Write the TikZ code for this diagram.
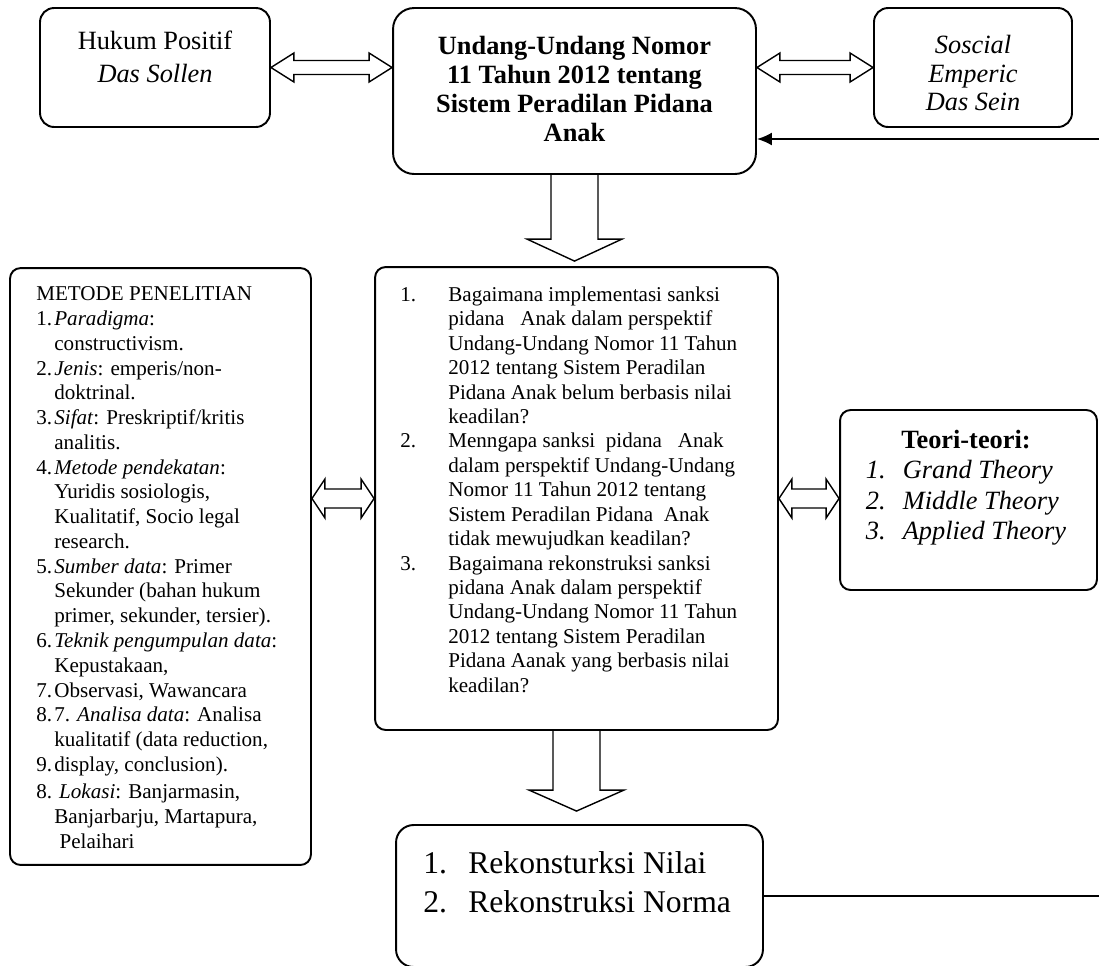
\documentclass[tikz,border=0pt]{standalone}
\usepackage{fontspec}
\setmainfont{Liberation Serif}
\usetikzlibrary{calc,arrows.meta}

\tikzset{
  box/.style={draw, line width=1.1pt, rounded corners=#1, inner sep=0pt},
  box/.default=6pt,
  txt/.style={inner sep=0pt},
  blockarrow/.style={draw, line width=0.8pt, line join=miter},
  feedback/.style={line width=1.1pt, -{Latex[length=3mm,width=2.6mm]}}
}

% from, to, head length, head half height, shaft half width
\newcommand{\dblarrow}[5]{%
  \draw[blockarrow] let \p1=(#1), \p2=(#2) in
    (\x1,\y1) -- (\x1+#3,\y1+#4) -- (\x1+#3,\y1+#5) -- (\x2-#3,\y1+#5)
    -- (\x2-#3,\y1+#4) -- (\x2,\y1) -- (\x2-#3,\y1-#4) -- (\x2-#3,\y1-#5)
    -- (\x1+#3,\y1-#5) -- (\x1+#3,\y1-#4) -- cycle;}
% from, to, gap, head length, head half width, shaft half width
\newcommand{\blockdown}[6]{%
  \draw[blockarrow] let \p1=(#1), \p2=(#2) in
    (\x1-#6,\y1) -- (\x1-#6,\y2+#3+#4) -- (\x1-#5,\y2+#3+#4) -- (\x1,\y2+#3)
    -- (\x1+#5,\y2+#3+#4) -- (\x1+#6,\y2+#3+#4) -- (\x1+#6,\y1);}

\begin{document}
\begin{tikzpicture}[x=0.02cm, y=-0.02cm]
  \useasboundingbox (0,0) rectangle (1099,965);
  \clip (0,0) rectangle (1099,965);

  \node[box=8pt, minimum width=4.6cm, minimum height=2.38cm] (huk) at (155,67.5) {};
  \node[box=12pt, minimum width=7.26cm, minimum height=3.32cm] (und) at (574.5,91) {};
  \node[box=8pt, minimum width=3.96cm, minimum height=2.38cm] (soc) at (973,67.5) {};
  \node[box, minimum width=6.02cm, minimum height=11.94cm] (met) at (160.5,566.5) {};
  \node[box, minimum width=8.06cm, minimum height=9.26cm] (qst) at (576.5,498.5) {};
  \node[box, minimum width=5.14cm, minimum height=3.6cm] (teo) at (968.5,500) {};
  \node[box=10pt, minimum width=7.34cm, minimum height=2.84cm] (rek) at (579.5,896) {};

  \node[txt, align=center, font=\fontsize{15}{18.7}\selectfont] (hukT) at (155,57)
    {Hukum Positif\\\textit{Das Sollen}};
  \node[txt, align=center, font=\bfseries\fontsize{15}{16.4}\selectfont] (undT) at (574.5,89)
    {Undang-Undang Nomor\\11 Tahun 2012 tentang\\Sistem Peradilan Pidana\\Anak};
  \node[txt, align=center, font=\itshape\fontsize{15}{16.2}\selectfont] (socT) at (973,73)
    {Soscial\\Emperic\\Das Sein};

  \node[txt, anchor=north west, font=\fontsize{12}{14.1}\selectfont] (metT) at (36,283) {%
    \begin{tabular}{@{}p{0.36cm}@{}l@{}}
      \multicolumn{2}{@{}l@{}}{METODE PENELITIAN}\\
      1. & \textit{Paradigma}:\\
         & constructivism.\\
      2. & \textit{Jenis}: emperis/non-\\
         & doktrinal.\\
      3. & \textit{Sifat}: Preskriptif/kritis\\
         & analitis.\\
      4. & \textit{Metode pendekatan}:\\
         & Yuridis sosiologis,\\
         & Kualitatif, Socio legal\\
         & research.\\
      5. & \textit{Sumber data}: Primer\\
         & Sekunder (bahan hukum\\
         & primer, sekunder, tersier).\\
      6. & \textit{Teknik pengumpulan data}:\\
         & Kepustakaan,\\
      7. & Observasi, Wawancara\\
      8. & 7. \textit{Analisa data}: Analisa\\
         & kualitatif (data reduction,\\
      9. & display, conclusion).\\[1.5pt]
      \multicolumn{2}{@{}l@{}}{8. \textit{Lokasi}: Banjarmasin,}\\
         & Banjarbarju, Martapura,\\
         & \ Pelaihari
    \end{tabular}};

  \node[txt, anchor=north west, font=\fontsize{12}{13.9}\selectfont] (qstT) at (400,284) {%
    \begin{tabular}{@{}p{0.96cm}@{}l@{}}
      1. & Bagaimana implementasi sanksi\\
         & pidana\ \ \ Anak dalam perspektif\\
         & Undang-Undang Nomor 11 Tahun\\
         & 2012 tentang Sistem Peradilan\\
         & Pidana Anak belum berbasis nilai\\
         & keadilan?\\
      2. & Menngapa sanksi\ \ pidana\ \ \ Anak\\
         & dalam perspektif Undang-Undang\\
         & Nomor 11 Tahun 2012 tentang\\
         & Sistem Peradilan Pidana\ \ Anak\\
         & tidak mewujudkan keadilan?\\
      3. & Bagaimana rekonstruksi sanksi\\
         & pidana Anak dalam perspektif\\
         & Undang-Undang Nomor 11 Tahun\\
         & 2012 tentang Sistem Peradilan\\
         & Pidana Aanak yang berbasis nilai\\
         & keadilan?
    \end{tabular}};

  \node[txt, font=\fontsize{15}{17.3}\selectfont] (teoT) at (966,488) {%
    \begin{tabular}{@{}p{0.74cm}@{}l@{}}
      \multicolumn{2}{@{}c@{}}{\textbf{Teori-teori:}}\\
      \textit{1.} & \textit{Grand Theory}\\
      \textit{2.} & \textit{Middle Theory}\\
      \textit{3.} & \textit{Applied Theory}
    \end{tabular}};

  \node[txt, anchor=north west, font=\fontsize{18}{22.1}\selectfont] (rekT) at (423,846) {%
    \begin{tabular}{@{}p{0.9cm}@{}l@{}}
      1. & Rekonsturksi Nilai\\
      2. & Rekonstruksi Norma
    \end{tabular}};

  \dblarrow{huk.east}{und.west |- huk.east}{0.46cm}{0.29cm}{0.14cm}
  \dblarrow{und.east |- soc.west}{soc.west}{0.46cm}{0.29cm}{0.14cm}
  \dblarrow{met.east |- qst.west}{qst.west}{0.26cm}{0.39cm}{0.19cm}
  \dblarrow{qst.east}{teo.west |- qst.east}{0.26cm}{0.39cm}{0.19cm}

  \blockdown{und.south}{qst.north}{0.1cm}{0.44cm}{0.95cm}{0.47cm}
  \blockdown{qst.south}{rek.north}{0.26cm}{0.42cm}{0.95cm}{0.47cm}

  \coordinate (fb) at (1120,139);
  \draw[feedback] (rek.east) -| (fb) -- (fb -| und.east);
\end{tikzpicture}
\end{document}
